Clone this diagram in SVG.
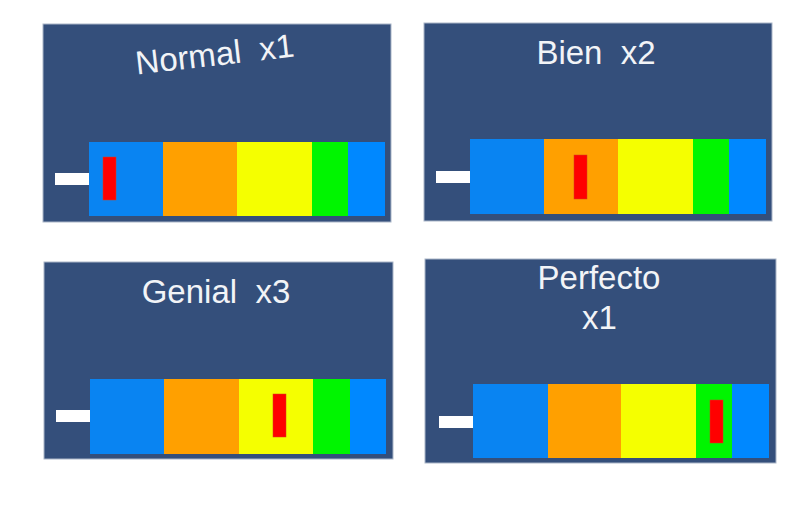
<svg xmlns="http://www.w3.org/2000/svg" width="807" height="506" viewBox="0 0 807 506">
<style>
.panel{fill:#344f7b;stroke:#aab6c8;stroke-width:1}
.t{font-family:"Liberation Sans",Arial,sans-serif;font-size:33px;fill:#f2f4f7;text-anchor:middle}
.b1{fill:#0984f2}
.o{fill:#ffa000}
.y{fill:#f5ff00}
.g{fill:#00f500}
.b2{fill:#0088ff}
.r{fill:#ff0000;stroke:#d04020;stroke-width:0.5}
.w{fill:#ffffff}
</style>
<rect width="807" height="506" fill="#ffffff"/>
<g id="panel-normal">
<rect class="panel" x="43" y="24" width="348" height="198"/>
<text class="t" x="216" y="65.5" transform="rotate(-6.5 216 65.5)" xml:space="preserve">Normal  x1</text>
<rect class="w" x="55" y="173" width="34" height="12"/>
<rect class="b1" x="89" y="142" width="74" height="74"/>
<rect class="o" x="163" y="142" width="74" height="74"/>
<rect class="y" x="237" y="142" width="75" height="74"/>
<rect class="g" x="312" y="142" width="36" height="74"/>
<rect class="b2" x="348" y="142" width="37" height="74"/>
<rect class="r" x="103" y="157" width="13" height="43"/>
</g>
<g id="panel-bien">
<rect class="panel" x="424" y="23" width="348" height="198"/>
<text class="t" x="596" y="64" xml:space="preserve">Bien  x2</text>
<rect class="w" x="436" y="171" width="34" height="12"/>
<rect class="b1" x="470" y="139" width="74" height="75"/>
<rect class="o" x="544" y="139" width="74" height="75"/>
<rect class="y" x="618" y="139" width="75" height="75"/>
<rect class="g" x="693" y="139" width="36" height="75"/>
<rect class="b2" x="729" y="139" width="37" height="75"/>
<rect class="r" x="574" y="155" width="13" height="44"/>
</g>
<g id="panel-genial">
<rect class="panel" x="44" y="262" width="349" height="197"/>
<text class="t" x="216" y="303" xml:space="preserve">Genial  x3</text>
<rect class="w" x="56" y="410" width="34" height="12"/>
<rect class="b1" x="90" y="379" width="74" height="75"/>
<rect class="o" x="164" y="379" width="75" height="75"/>
<rect class="y" x="239" y="379" width="74" height="75"/>
<rect class="g" x="313" y="379" width="37" height="75"/>
<rect class="b2" x="350" y="379" width="36" height="75"/>
<rect class="r" x="273" y="394" width="13" height="43"/>
</g>
<g id="panel-perfecto">
<rect class="panel" x="425" y="259" width="351" height="204"/>
<text class="t" x="599" y="289">Perfecto</text>
<text class="t" x="599.5" y="329">x1</text>
<rect class="w" x="439" y="416" width="34" height="12"/>
<rect class="b1" x="473" y="384" width="75" height="74"/>
<rect class="o" x="548" y="384" width="73" height="74"/>
<rect class="y" x="621" y="384" width="75" height="74"/>
<rect class="g" x="696" y="384" width="36" height="74"/>
<rect class="b2" x="732" y="384" width="37" height="74"/>
<rect class="r" x="710" y="400" width="13" height="43"/>
</g>
<g id="connectors"/>
</svg>
